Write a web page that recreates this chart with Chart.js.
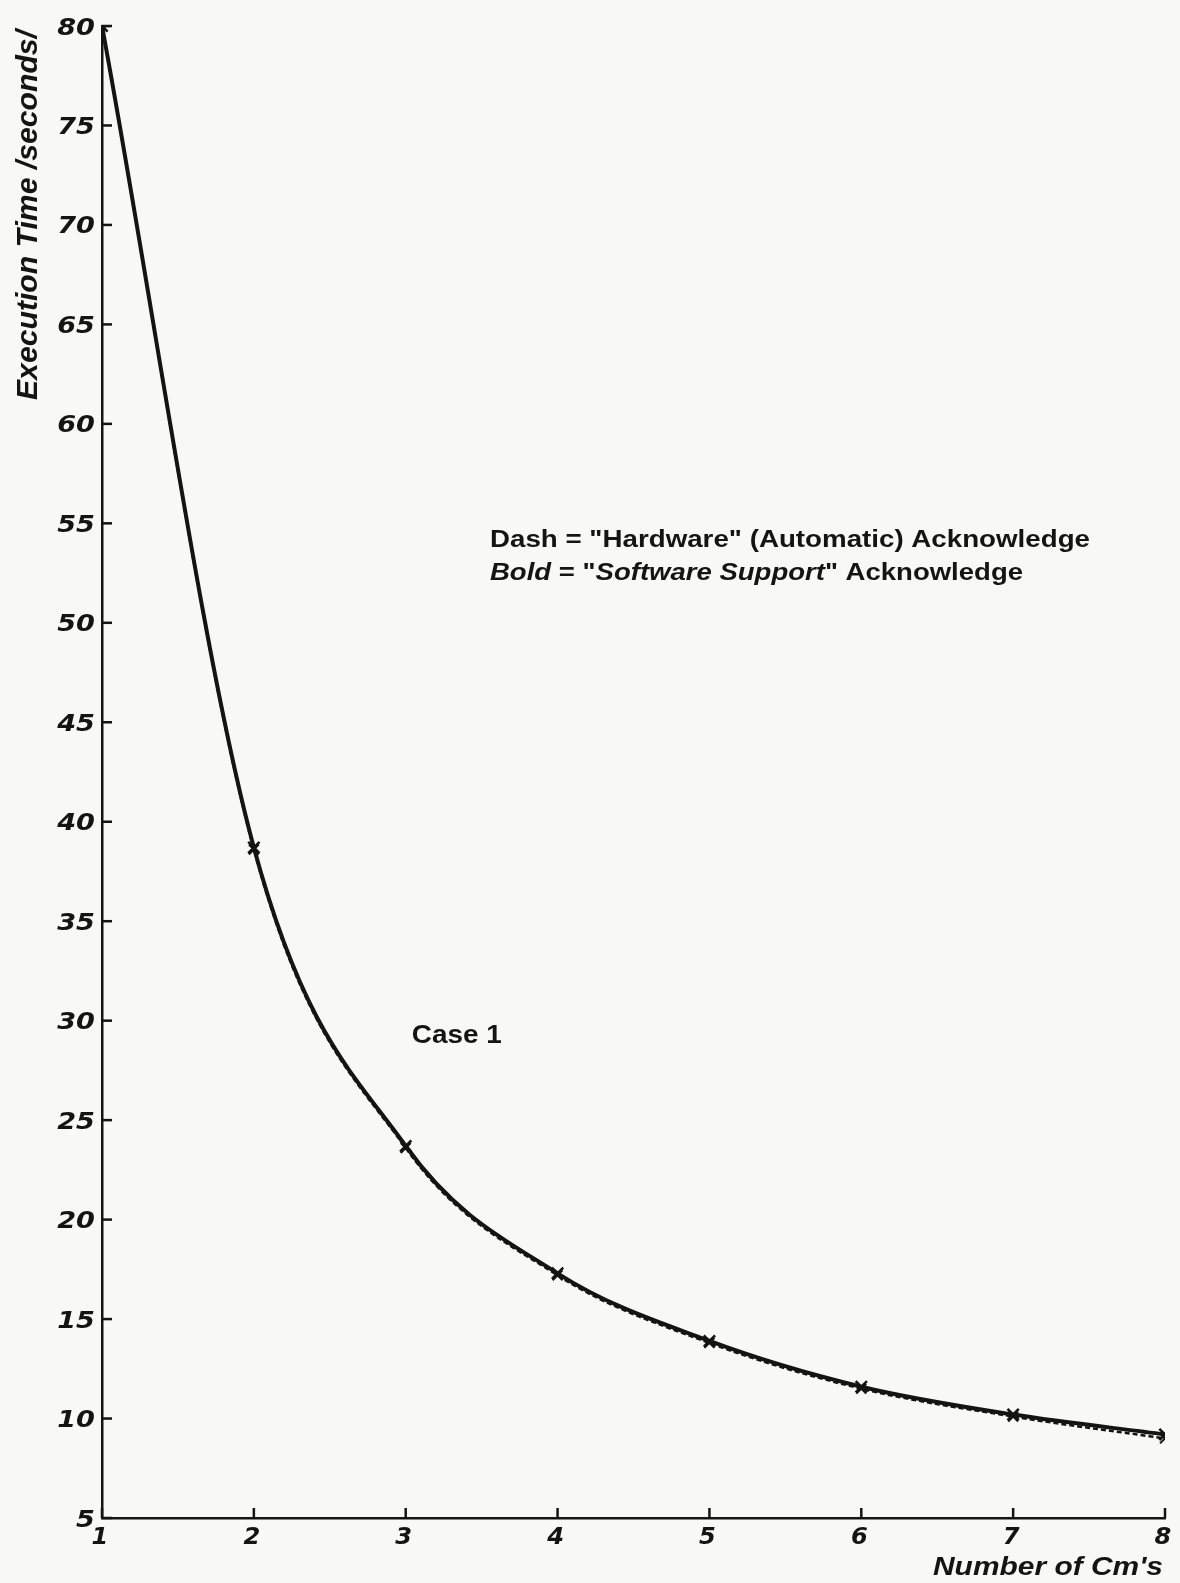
<!DOCTYPE html>
<html><head><meta charset="utf-8">
<script src="https://cdn.jsdelivr.net/npm/chart.js@4"></script>
<style>html,body{margin:0;padding:0;background:#f7f7f5;}#wrap{width:1180px;height:1583px;position:relative}</style>
</head><body><div id="wrap"><canvas id="c"></canvas></div>
<script>
// ---- data ----
const categories = [1, 2, 3, 4, 5, 6, 7, 8];                       // Number of Cm's
const softwareSupport = [80, 38.7, 23.7, 17.3, 13.9, 11.6, 10.2, 9.2]; // Bold
const hardwareAck = [80, 38.6, 23.6, 17.2, 13.8, 11.5, 10.1, 9.0];     // Dash
const yTickValues = [5, 10, 15, 20, 25, 30, 35, 40, 45, 50, 55, 60, 65, 70, 75, 80];
const xTickValues = [1, 2, 3, 4, 5, 6, 7, 8];
const yTitle = "Execution Time /seconds/";
const xTitle = "Number of Cm's";
const legendLine1 = [["Dash = \"Hardware\" (Automatic) Acknowledge", false]];
const legendLine2 = [["Bold", true], [" = \"", false], ["Software Support", true], ["\" Acknowledge", false]];
const caseLabel = "Case 1";

const INK = '#141414';

function fitText(ctx, text, x, y, font, width, align) {
  ctx.save();
  ctx.font = font;
  const w = ctx.measureText(text).width;
  const sx = width / w;
  ctx.textAlign = 'left';
  let x0 = x;
  if (align === 'center') x0 = x - width / 2;
  if (align === 'right') x0 = x - width;
  ctx.translate(x0, y);
  ctx.scale(sx, 1);
  ctx.fillText(text, 0, 0);
  ctx.restore();
}
function scaledText(ctx, text, x, y, font, sx, align) {
  ctx.save();
  ctx.font = font;
  const w = ctx.measureText(text).width * sx;
  let x0 = x;
  if (align === 'center') x0 = x - w / 2;
  if (align === 'right') x0 = x - w;
  ctx.translate(x0, y);
  ctx.scale(sx, 1);
  ctx.textAlign = 'left';
  ctx.fillText(text, 0, 0);
  ctx.restore();
}
function mixedLine(ctx, parts, x, y, size, totalWidth) {
  ctx.save();
  let w = 0;
  const fonts = parts.map(([t, it]) => (it ? 'italic ' : '') + 'bold ' + size + 'px "Liberation Sans", Arial, sans-serif');
  parts.forEach(([t], i) => { ctx.font = fonts[i]; w += ctx.measureText(t).width; });
  const sx = totalWidth / w;
  ctx.translate(x, y);
  ctx.scale(sx, 1);
  let cx = 0;
  ctx.textAlign = 'left';
  ctx.textBaseline = 'alphabetic';
  parts.forEach(([t], i) => { ctx.font = fonts[i]; ctx.fillText(t, cx, 0); cx += ctx.measureText(t).width; });
  ctx.restore();
}

const bgPlugin = {
  id: 'bg',
  beforeDraw(chart) {
    const c = chart.ctx;
    c.save(); c.fillStyle = '#f8f8f6'; c.fillRect(0, 0, chart.width, chart.height); c.restore();
  }
};

const decoPlugin = {
  id: 'deco',
  afterDraw(chart) {
    const ctx = chart.ctx;
    const xs = chart.scales.x, ys = chart.scales.y;
    const area = chart.chartArea;
    ctx.save();
    ctx.strokeStyle = INK; ctx.fillStyle = INK; ctx.lineWidth = 2.5;
    // inward tick marks
    ys.ticks.forEach(t => {
      const p = ys.getPixelForValue(t.value);
      ctx.beginPath(); ctx.moveTo(area.left, p); ctx.lineTo(area.left + 10, p); ctx.stroke();
    });
    xs.ticks.forEach(t => {
      const p = xs.getPixelForValue(t.value);
      ctx.beginPath(); ctx.moveTo(p, area.bottom); ctx.lineTo(p, area.bottom - 10); ctx.stroke();
    });
    // y tick labels
    ctx.textBaseline = 'alphabetic';
    ys.ticks.forEach(t => {
      const p = ys.getPixelForValue(t.value);
      scaledText(ctx, String(t.value), area.left - 7, p + 8.5, 'italic bold 23px "DejaVu Sans", sans-serif', 1.18, 'right');
    });
    // x tick labels
    xs.ticks.forEach(t => {
      const p = xs.getPixelForValue(t.value);
      scaledText(ctx, String(t.value), p - 2, area.bottom + 26, 'italic bold 23px "DejaVu Sans", sans-serif', 1.05, 'center');
    });
    // x title
    fitText(ctx, xTitle, area.right - 2, 1575, 'italic bold 25px "Liberation Sans", Arial, sans-serif', 230, 'right');
    // y title (rotated)
    ctx.save();
    ctx.translate(37, 215);
    ctx.rotate(-Math.PI / 2);
    fitText(ctx, yTitle, 0, 0, 'italic bold 29px "Liberation Sans", Arial, sans-serif', 370, 'center');
    ctx.restore();
    // annotations anchored in data space
    const lx = xs.getPixelForValue(3.555);
    mixedLine(ctx, legendLine1, lx, ys.getPixelForValue(53.82), 23, 600);
    mixedLine(ctx, legendLine2, lx, ys.getPixelForValue(52.16), 23, 533);
    fitText(ctx, caseLabel, xs.getPixelForValue(3.04), ys.getPixelForValue(28.88), 'bold 25px "Liberation Sans", Arial, sans-serif', 90, 'left');
    ctx.restore();
  }
};

const markerStyles = categories.map((c, i) => i === 0 ? 'star' : 'crossRot');

const ctx = document.getElementById('c').getContext('2d');
new Chart(ctx, {
  type: 'line',
  data: {
    datasets: [
      {
        label: 'Software Support Acknowledge',
        data: categories.map((x, i) => ({ x, y: softwareSupport[i] })),
        borderColor: INK, borderWidth: 4, cubicInterpolationMode: 'monotone',
        pointStyle: markerStyles, pointRadius: 8, pointBorderWidth: 2.5, pointBorderColor: INK,
        fill: false
      },
      {
        label: 'Hardware (Automatic) Acknowledge',
        data: categories.map((x, i) => ({ x, y: hardwareAck[i] })),
        borderColor: INK, borderWidth: 2.5, borderDash: [5, 3], cubicInterpolationMode: 'monotone',
        pointStyle: markerStyles, pointRadius: 7, pointBorderWidth: 2, pointBorderColor: INK,
        fill: false
      }
    ]
  },
  options: {
    responsive: true, maintainAspectRatio: false, animation: false,
    layout: { padding: { top: 26, right: 15, left: 0, bottom: 0 } },
    plugins: { legend: { display: false }, tooltip: { enabled: false } },
    scales: {
      x: {
        type: 'linear', min: 1, max: 8,
        afterBuildTicks: s => { s.ticks = xTickValues.map(v => ({ value: v })); },
        afterFit: s => { s.height = 65; },
        ticks: { display: false },
        grid: { display: true, drawOnChartArea: false, drawTicks: false },
        border: { display: true, color: INK, width: 2.5 }
      },
      y: {
        type: 'linear', min: 5, max: 80,
        afterBuildTicks: s => { s.ticks = yTickValues.map(v => ({ value: v })); },
        afterFit: s => { s.width = 102; },
        ticks: { display: false },
        grid: { display: true, drawOnChartArea: false, drawTicks: false },
        border: { display: true, color: INK, width: 2.5 }
      }
    }
  },
  plugins: [bgPlugin, decoPlugin]
});
</script></body></html>
